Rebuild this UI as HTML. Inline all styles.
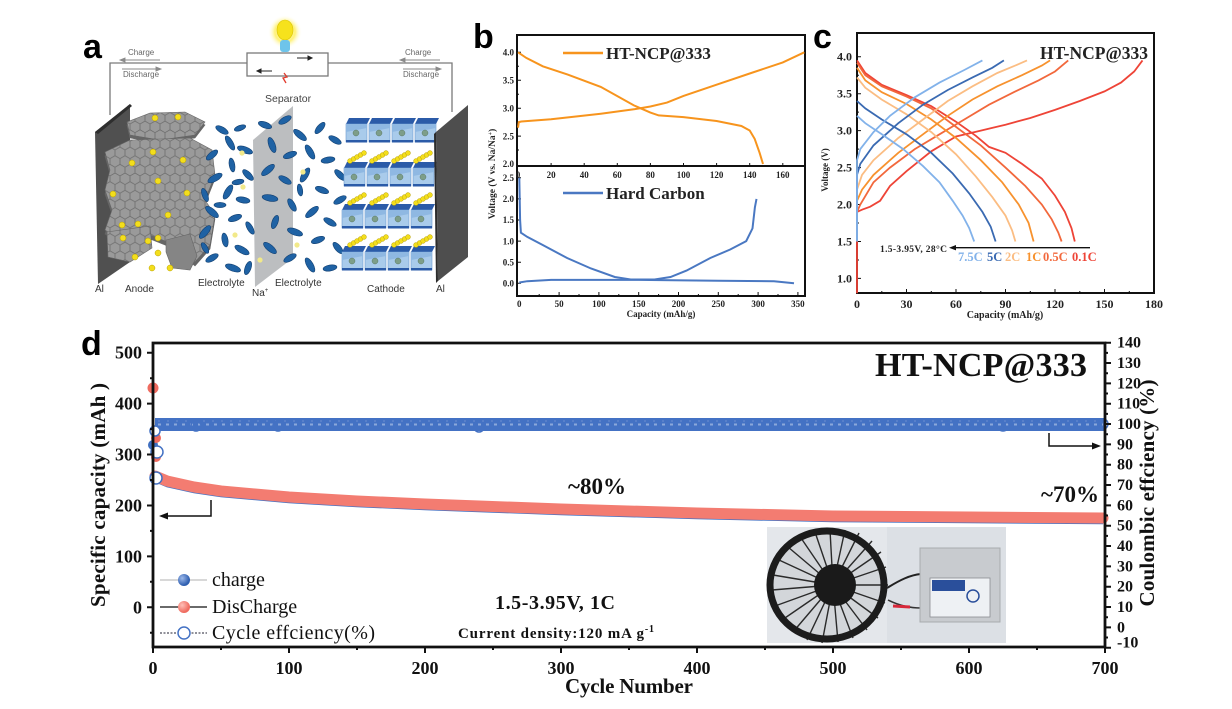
<!DOCTYPE html>
<html><head><meta charset="utf-8"><style>
html,body{margin:0;padding:0;background:#fff;}
svg{display:block;}
.s{font-family:"Liberation Serif",serif;font-weight:bold;}
.r{font-family:"Liberation Serif",serif;}
.a{font-family:"Liberation Sans",sans-serif;}
</style></head><body>
<svg width="1232" height="709" viewBox="0 0 1232 709" xmlns="http://www.w3.org/2000/svg">
<defs>
<pattern id="hex" width="10" height="17.3" patternUnits="userSpaceOnUse">
<rect width="10" height="17.3" fill="#9a9a9a"/>
<path d="M5 0 L10 2.9 L10 8.65 L5 11.55 L0 8.65 L0 2.9 Z M5 11.55 L5 17.3" fill="none" stroke="#6e6e6e" stroke-width="0.8"/>
</pattern>
<radialGradient id="glow" cx="0.5" cy="0.5" r="0.5"><stop offset="0" stop-color="#fffbd0"/><stop offset="0.6" stop-color="#fff27a"/><stop offset="1" stop-color="#fff" stop-opacity="0"/></radialGradient>
<radialGradient id="bball" cx="0.35" cy="0.35" r="0.6"><stop offset="0" stop-color="#9db9ea"/><stop offset="1" stop-color="#2f5fb0"/></radialGradient>
<radialGradient id="rball" cx="0.35" cy="0.35" r="0.6"><stop offset="0" stop-color="#ffc0b8"/><stop offset="1" stop-color="#ef6b5f"/></radialGradient>
<g id="cube">
<polygon points="3,0 24,0 21,6 0,6" fill="#2b5ba8"/>
<rect x="0" y="6" width="21" height="18" fill="#a9cbeb" stroke="#6d9bd0" stroke-width="0.6"/>
<polygon points="0,6 21,6 21,10 0,14" fill="#8fb8e2"/>
<rect x="0" y="22" width="21" height="2.5" fill="#2b5ba8"/>
<circle cx="10" cy="15" r="3" fill="#7d9e89" stroke="#5b7a66" stroke-width="0.5"/>
</g>
<g id="chain" fill="#f3de1c" stroke="#b9a000" stroke-width="0.5">
<circle cx="0" cy="8" r="2.4"/><circle cx="3.5" cy="6" r="2.4"/><circle cx="7" cy="4" r="2.4"/><circle cx="10.5" cy="2" r="2.4"/><circle cx="14" cy="0" r="2.4"/>
</g>
</defs>

<!-- ================= PANEL A ================= -->
<text x="83" y="58" class="a" font-size="34" font-weight="bold">a</text>
<g fill="none" stroke="#7a7a7a" stroke-width="1.3">
<path d="M110 115 V63 H247 M328 63 H452 V112"/>
<rect x="247" y="53" width="81" height="23" fill="#fff"/>
</g>
<circle cx="285" cy="32" r="17" fill="url(#glow)"/>
<ellipse cx="285" cy="30" rx="8" ry="10" fill="#f6e21c" stroke="#d8c200" stroke-width="0.6"/>
<rect x="280" y="40" width="10" height="12" rx="3" fill="#6ec4ea"/>
<path d="M284 73 L287 77 L283 78 L286 83" fill="none" stroke="#e23b2d" stroke-width="1.3"/>
<g stroke="#222" stroke-width="1" fill="#222">
<path d="M297 58 H309"/><path d="M312 58 L308 56 L308 60 Z"/>
<path d="M272 71 H260"/><path d="M257 71 L261 69 L261 73 Z"/>
</g>
<g class="a" font-size="8" fill="#666">
<text x="128" y="55">Charge</text><text x="123" y="77">Discharge</text>
<text x="405" y="55">Charge</text><text x="403" y="77">Discharge</text>
</g>
<g stroke="#8a8a8a" stroke-width="0.9" fill="#8a8a8a">
<path d="M123 60 H160"/><path d="M120 60 L125 58 L125 62 Z"/>
<path d="M122 69 H158"/><path d="M161 69 L156 67 L156 71 Z"/>
<path d="M403 60 H440"/><path d="M400 60 L405 58 L405 62 Z"/>
<path d="M403 69 H438"/><path d="M441 69 L436 67 L436 71 Z"/>
</g>
<text x="265" y="102" class="a" font-size="10.5" fill="#444">Separator</text>
<polygon points="95,132 130,104 130,262 98,284" fill="#505050"/>
<polygon points="95,132 130,104 132,106 98,134" fill="#2e2e2e"/>
<g stroke="#666" stroke-width="0.6">
<polygon points="127,125 150,116 185,115 205,125 195,138 160,143 130,138" fill="#666"/>
<polygon points="127,122 150,113 185,112 205,122 195,135 160,140 130,135" fill="url(#hex)"/>
<polygon points="105,156 130,144 190,142 212,154 215,179 205,204 215,219 210,249 195,266 175,249 150,239 120,244 105,234 112,214 105,194 110,174" fill="#666"/>
<polygon points="105,152 130,140 190,138 212,150 215,175 205,200 215,215 210,245 195,262 175,245 150,235 120,240 105,230 112,210 105,190 110,170" fill="url(#hex)"/>
<polygon points="107,232 150,226 152,248 130,262 108,257" fill="url(#hex)"/>
<polygon points="166,240 190,234 197,256 190,270 172,268 166,252" fill="#858585"/>
</g>
<g fill="#f3de1c" stroke="#b9a000" stroke-width="0.5">
<circle cx="155" cy="118" r="3"/><circle cx="178" cy="117" r="3"/><circle cx="153" cy="152" r="3"/><circle cx="183" cy="160" r="3"/>
<circle cx="132" cy="163" r="3"/><circle cx="158" cy="181" r="3"/><circle cx="113" cy="194" r="3"/><circle cx="187" cy="193" r="3"/>
<circle cx="168" cy="215" r="3"/><circle cx="122" cy="225" r="3"/><circle cx="138" cy="224" r="3"/><circle cx="123" cy="238" r="3"/>
<circle cx="135" cy="257" r="3"/><circle cx="148" cy="241" r="3"/><circle cx="158" cy="253" r="3"/><circle cx="152" cy="268" r="3"/>
<circle cx="170" cy="268" r="3"/><circle cx="158" cy="238" r="3"/>
</g>
<polygon points="253,140 293,106 293,258 255,287" fill="#a6a8ab" opacity="0.75"/>
<g fill="#1f62a4" stroke="#123f70" stroke-width="0.6">
<ellipse cx="222" cy="130" rx="7" ry="3" transform="rotate(30 222 130)"/>
<ellipse cx="240" cy="128" rx="6" ry="2.6" transform="rotate(-20 240 128)"/>
<ellipse cx="230" cy="143" rx="8" ry="3" transform="rotate(60 230 143)"/>
<ellipse cx="212" cy="155" rx="7" ry="3" transform="rotate(-40 212 155)"/>
<ellipse cx="245" cy="150" rx="8" ry="3.2" transform="rotate(20 245 150)"/>
<ellipse cx="232" cy="165" rx="7" ry="2.8" transform="rotate(80 232 165)"/>
<ellipse cx="215" cy="178" rx="8" ry="3.2" transform="rotate(-30 215 178)"/>
<ellipse cx="248" cy="175" rx="7" ry="3" transform="rotate(45 248 175)"/>
<ellipse cx="205" cy="195" rx="7" ry="2.8" transform="rotate(70 205 195)"/>
<ellipse cx="228" cy="192" rx="8" ry="3.2" transform="rotate(-60 228 192)"/>
<ellipse cx="243" cy="200" rx="7" ry="3" transform="rotate(10 243 200)"/>
<ellipse cx="212" cy="212" rx="8" ry="3.2" transform="rotate(40 212 212)"/>
<ellipse cx="235" cy="218" rx="7" ry="3" transform="rotate(-20 235 218)"/>
<ellipse cx="250" cy="228" rx="7" ry="2.8" transform="rotate(60 250 228)"/>
<ellipse cx="205" cy="232" rx="8" ry="3.2" transform="rotate(-50 205 232)"/>
<ellipse cx="225" cy="240" rx="7" ry="3" transform="rotate(80 225 240)"/>
<ellipse cx="242" cy="250" rx="8" ry="3.2" transform="rotate(30 242 250)"/>
<ellipse cx="212" cy="258" rx="7" ry="3" transform="rotate(-30 212 258)"/>
<ellipse cx="233" cy="268" rx="8" ry="3.2" transform="rotate(20 233 268)"/>
<ellipse cx="248" cy="268" rx="7" ry="3" transform="rotate(-70 248 268)"/>
<ellipse cx="205" cy="248" rx="6" ry="2.6" transform="rotate(60 205 248)"/>
<ellipse cx="220" cy="205" rx="6" ry="2.6"/>
<ellipse cx="238" cy="182" rx="6" ry="2.6" transform="rotate(-10 238 182)"/>
<ellipse cx="265" cy="125" rx="7" ry="3" transform="rotate(20 265 125)"/>
<ellipse cx="285" cy="120" rx="7" ry="3" transform="rotate(-30 285 120)"/>
<ellipse cx="300" cy="135" rx="8" ry="3.2" transform="rotate(40 300 135)"/>
<ellipse cx="320" cy="128" rx="7" ry="3" transform="rotate(-50 320 128)"/>
<ellipse cx="335" cy="140" rx="7" ry="3" transform="rotate(30 335 140)"/>
<ellipse cx="272" cy="145" rx="8" ry="3.2" transform="rotate(70 272 145)"/>
<ellipse cx="290" cy="155" rx="7" ry="3" transform="rotate(-20 290 155)"/>
<ellipse cx="310" cy="152" rx="8" ry="3.2" transform="rotate(60 310 152)"/>
<ellipse cx="328" cy="160" rx="7" ry="3" transform="rotate(-10 328 160)"/>
<ellipse cx="340" cy="175" rx="7" ry="3" transform="rotate(45 340 175)"/>
<ellipse cx="268" cy="170" rx="8" ry="3.2" transform="rotate(-40 268 170)"/>
<ellipse cx="285" cy="180" rx="7" ry="3" transform="rotate(30 285 180)"/>
<ellipse cx="305" cy="175" rx="8" ry="3.2" transform="rotate(-60 305 175)"/>
<ellipse cx="322" cy="190" rx="7" ry="3" transform="rotate(20 322 190)"/>
<ellipse cx="340" cy="200" rx="7" ry="3" transform="rotate(-30 340 200)"/>
<ellipse cx="270" cy="198" rx="8" ry="3.2" transform="rotate(10 270 198)"/>
<ellipse cx="292" cy="205" rx="7" ry="3" transform="rotate(60 292 205)"/>
<ellipse cx="312" cy="212" rx="8" ry="3.2" transform="rotate(-40 312 212)"/>
<ellipse cx="330" cy="222" rx="7" ry="3" transform="rotate(30 330 222)"/>
<ellipse cx="275" cy="222" rx="7" ry="3" transform="rotate(-70 275 222)"/>
<ellipse cx="295" cy="232" rx="8" ry="3.2" transform="rotate(20 295 232)"/>
<ellipse cx="318" cy="240" rx="7" ry="3" transform="rotate(-20 318 240)"/>
<ellipse cx="338" cy="248" rx="7" ry="3" transform="rotate(50 338 248)"/>
<ellipse cx="270" cy="248" rx="8" ry="3.2" transform="rotate(40 270 248)"/>
<ellipse cx="290" cy="258" rx="7" ry="3" transform="rotate(-30 290 258)"/>
<ellipse cx="310" cy="265" rx="8" ry="3.2" transform="rotate(60 310 265)"/>
<ellipse cx="330" cy="268" rx="7" ry="3" transform="rotate(-10 330 268)"/>
<ellipse cx="300" cy="190" rx="6" ry="2.6" transform="rotate(80 300 190)"/>
</g>
<g fill="#f2e98a">
<circle cx="242" cy="153" r="2.6"/><circle cx="243" cy="187" r="2.6"/><circle cx="235" cy="235" r="2.6"/>
<circle cx="260" cy="260" r="2.6"/><circle cx="297" cy="245" r="2.6"/><circle cx="303" cy="172" r="2.6"/>
</g>
<use href="#cube" x="346" y="118"/><use href="#cube" x="369" y="118"/><use href="#cube" x="392" y="118"/><use href="#cube" x="415" y="118"/>
<use href="#cube" x="344" y="162"/><use href="#cube" x="367" y="162"/><use href="#cube" x="390" y="162"/><use href="#cube" x="413" y="162"/>
<use href="#cube" x="342" y="204"/><use href="#cube" x="365" y="204"/><use href="#cube" x="388" y="204"/><use href="#cube" x="411" y="204"/>
<use href="#cube" x="342" y="246"/><use href="#cube" x="365" y="246"/><use href="#cube" x="388" y="246"/><use href="#cube" x="411" y="246"/>
<use href="#chain" x="350" y="153"/><use href="#chain" x="372" y="153"/><use href="#chain" x="394" y="153"/><use href="#chain" x="416" y="153"/>
<use href="#chain" x="350" y="195"/><use href="#chain" x="372" y="195"/><use href="#chain" x="394" y="195"/><use href="#chain" x="416" y="195"/>
<use href="#chain" x="350" y="237"/><use href="#chain" x="372" y="237"/><use href="#chain" x="394" y="237"/><use href="#chain" x="416" y="237"/>
<polygon points="436,132 468,105 468,257 438,281" fill="#4e4e4e"/>
<polygon points="434,134 436,132 438,281 436,283" fill="#2c2c2c"/>
<g class="a" font-size="10" fill="#333">
<text x="95" y="292">Al</text><text x="125" y="292">Anode</text>
<text x="198" y="286">Electrolyte</text><text x="252" y="296">Na<tspan font-size="6" dy="-4">+</tspan></text>
<text x="275" y="286">Electrolyte</text><text x="367" y="292">Cathode</text><text x="436" y="292">Al</text>
</g>

<!-- ================= PANEL B ================= -->
<text x="473" y="48" class="a" font-size="34" font-weight="bold">b</text>
<g fill="none" stroke="#111" stroke-width="2">
<rect x="517" y="35" width="288" height="261"/>
<path d="M517 166 H805"/>
</g>
<g stroke="#111" stroke-width="1">
<path d="M517 52.3h4M517 80.2h4M517 108.2h4M517 136.1h4M517 66.3h2M517 94.2h2M517 122.2h2M517 150h2"/>
<path d="M551.1 166v-3M584.2 166v-3M617.3 166v-3M650.4 166v-3M683.5 166v-3M716.6 166v-3M749.7 166v-3M782.8 166v-3"/>
<path d="M517 177.8h4M517 198.9h4M517 220h4M517 241.1h4M517 262.2h4M517 283.3h4"/>
<path d="M559.1 296v-4M598.9 296v-4M638.7 296v-4M678.5 296v-4M718.3 296v-4M758.1 296v-4M797.9 296v-4M539.2 296v-2M579 296v-2M618.8 296v-2M658.6 296v-2M698.4 296v-2M738.2 296v-2M778 296v-2"/>
</g>
<g class="s" font-size="9" fill="#222" text-anchor="end">
<text x="514" y="55.5">4.0</text><text x="514" y="83.4">3.5</text><text x="514" y="111.4">3.0</text><text x="514" y="139.3">2.5</text><text x="514" y="167">2.0</text>
<text x="514" y="181">2.5</text><text x="514" y="202.1">2.0</text><text x="514" y="223.2">1.5</text><text x="514" y="244.3">1.0</text><text x="514" y="265.4">0.5</text><text x="514" y="286.5">0.0</text>
</g>
<g class="s" font-size="9" fill="#222" text-anchor="middle">
<text x="518" y="178">0</text><text x="551.1" y="178">20</text><text x="584.2" y="178">40</text><text x="617.3" y="178">60</text><text x="650.4" y="178">80</text><text x="683.5" y="178">100</text><text x="716.6" y="178">120</text><text x="749.7" y="178">140</text><text x="782.8" y="178">160</text>
<text x="519.3" y="307">0</text><text x="559.1" y="307">50</text><text x="598.9" y="307">100</text><text x="638.7" y="307">150</text><text x="678.5" y="307">200</text><text x="718.3" y="307">250</text><text x="758.1" y="307">300</text><text x="797.9" y="307">350</text>
<text x="661" y="317">Capacity (mAh/g)</text>
</g>
<text class="s" font-size="9.5" fill="#222" text-anchor="middle" transform="translate(495 174) rotate(-90)">Voltage (V vs. Na/Na<tspan font-size="6" dy="-3">+</tspan><tspan dy="3">)</tspan></text>
<g fill="none" stroke="#f7941d" stroke-width="2">
<polyline points="518,127.7 518.8,122.1 521.3,121.5 551.1,119.3 600.8,113.7 633.9,109.3 650.4,106.5 667,102.6 683.5,95.9 716.6,84.7 749.7,73.5 782.8,62.4 804.3,52.3"/>
<polyline points="518,52.3 526.3,57.9 542.8,66.3 567.7,74.6 600.8,86.9 633.9,105.4 650.4,112.6 658.7,115.4 683.5,117.1 716.6,121 741.4,126 749.7,130.5 754.7,138.9 759.6,152.8 763,164"/>
<path d="M563 53 H603" stroke-width="2.5"/>
</g>
<g fill="none" stroke="#4a78c2" stroke-width="2">
<polyline points="519.3,177.8 520.1,220 520.9,232.7 527.3,236.9 543.2,245.3 567.1,258 591,268.5 614.8,277 630.7,279.5 654.6,279.5 670.5,277 686.5,270.6 710.3,258 730.2,249.5 746.2,241.1 752.5,228.4 754.9,207.3 756.5,198.9"/>
<polyline points="519.3,282.5 527.3,281.2 551.1,279.9 638.7,279.9 718.3,280.8 774,281.2 794,283.3"/>
<path d="M563 193 H603" stroke-width="2.5"/>
</g>
<text x="606" y="59" class="s" font-size="17" fill="#222">HT-NCP@333</text>
<text x="606" y="199" class="s" font-size="17" fill="#222">Hard Carbon</text>

<!-- ================= PANEL C ================= -->
<text x="813" y="48" class="a" font-size="34" font-weight="bold">c</text>
<rect x="857" y="33" width="297" height="260" fill="none" stroke="#111" stroke-width="2"/>
<g stroke="#111" stroke-width="1">
<path d="M857 56.7h4M857 93.7h4M857 130.6h4M857 167.6h4M857 204.5h4M857 241.5h4M857 278.4h4M857 75.2h2M857 112.1h2M857 149.1h2M857 186h2M857 223h2M857 260h2"/>
<path d="M906.5 293v-4M956 293v-4M1005.5 293v-4M1055 293v-4M1104.5 293v-4M881.8 293v-2M931.3 293v-2M980.8 293v-2M1030.3 293v-2M1079.8 293v-2M1129.3 293v-2"/>
</g>
<g class="s" font-size="12" fill="#222" text-anchor="end">
<text x="852" y="60.7">4.0</text><text x="852" y="97.7">3.5</text><text x="852" y="134.6">3.0</text><text x="852" y="171.6">2.5</text><text x="852" y="208.5">2.0</text><text x="852" y="245.5">1.5</text><text x="852" y="282.4">1.0</text>
</g>
<g class="s" font-size="12" fill="#222" text-anchor="middle">
<text x="857" y="308">0</text><text x="906.5" y="308">30</text><text x="956" y="308">60</text><text x="1005.5" y="308">90</text><text x="1055" y="308">120</text><text x="1104.5" y="308">150</text><text x="1154" y="308">180</text>
<text x="1005" y="318" font-size="10">Capacity (mAh/g)</text>
</g>
<text class="s" font-size="9" fill="#222" text-anchor="middle" transform="translate(828 170) rotate(-90)">Voltage (V)</text>
<text x="1040" y="59" class="s" font-size="17.5" fill="#222">HT-NCP@333</text>
<g fill="none" stroke-width="1.8">
<polyline stroke="#ee4437" points="857,293.2 857,211.9 862,209.7 870.2,206.7 880.1,200.8 890,186 906.5,171.2 931.3,151.3 956,136.5 980.8,130.6 1005.5,124.7 1030.3,118 1055,109.9 1079.8,101 1104.5,91.4 1121,82.6 1134.2,71.5 1142.5,60.4"/>
<polyline stroke="#ee4437" points="857,60.4 865.3,73 881.8,84.8 906.5,95.1 931.3,106.2 956,121.7 975.8,135.8 989,146.9 1005.5,152.8 1022,163.9 1041.8,178.6 1055,195.6 1064.9,211.9 1071.5,228.1 1074.8,241.5"/>
<polyline stroke="#f2683c" points="857,241.5 857,211.9 860.3,204.5 873.5,182.3 890,167.6 914.8,149.1 939.5,134.3 964.3,119.5 989,104.7 1013.8,92.2 1038.5,80.4 1055,71.5 1068.2,60.4"/>
<polyline stroke="#f2683c" points="857,62.6 865.3,75.2 881.8,86.3 906.5,96.6 931.3,108.4 956,126.9 980.8,145.4 1005.5,167.6 1025.3,186 1041.8,204.5 1051.7,219.3 1058.3,232.6 1061.6,241.5"/>
<polyline stroke="#f7922e" points="857,241.5 857,200.8 862,189.7 873.5,174.9 898.3,152.8 923,134.3 947.8,115.8 972.5,99.5 997.3,86.3 1022,75.2 1041.8,65.6 1050.1,60.4"/>
<polyline stroke="#f7922e" points="857,67.8 865.3,80.4 881.8,92.2 906.5,104 931.3,119.5 956,138 980.8,160.2 1002.2,182.3 1018.7,204.5 1028.6,223 1033.6,241.5"/>
<polyline stroke="#fbbd83" points="857,241.5 857,189.7 862,174.9 873.5,160.2 898.3,138 923,119.5 947.8,101 972.5,86.3 997.3,73 1018.7,64.1 1027,60.4"/>
<polyline stroke="#fbbd83" points="857,77.4 865.3,87.7 881.8,99.6 906.5,114.3 931.3,132.1 956,154.3 975.8,176.4 992.3,197.1 1005.5,215.6 1012.1,230.4 1015.4,241.5"/>
<polyline stroke="#3a6ab2" points="857,241.5 857,174.9 860.3,163.9 873.5,145.4 898.3,123.2 923,104.7 947.8,90 972.5,77.4 992.3,67.8 1003.9,60.4"/>
<polyline stroke="#3a6ab2" points="857,101 865.3,108.4 881.8,119.5 906.5,134.3 931.3,152.8 952.7,173.5 969.2,193.4 982.4,211.9 990.7,226.7 995.6,241.5"/>
<polyline stroke="#82b2ea" points="857,241.5 857,160.2 860.3,149.1 873.5,132.1 890,115.8 914.8,97.3 939.5,82.6 964.3,70 982.4,60.4"/>
<polyline stroke="#82b2ea" points="857,115.8 865.3,123.2 881.8,134.3 903.2,149.1 923,166.1 939.5,182.3 952.7,200.8 962.6,215.6 969.2,228.1 974.2,241.5"/>
</g>
<path d="M1090 247.7 H954" stroke="#111" stroke-width="1.3"/>
<path d="M949 247.7 L956 245 L956 250.4 Z" fill="#111"/>
<text x="880" y="252" class="s" font-size="9.5" fill="#222" textLength="67">1.5-3.95V, 28°C</text>
<g class="s" font-size="12.5">
<text x="958" y="261" fill="#82b2ea">7.5C</text>
<text x="987" y="261" fill="#3a6ab2">5C</text>
<text x="1005" y="261" fill="#fbbd83">2C</text>
<text x="1026" y="261" fill="#f7922e">1C</text>
<text x="1043" y="261" fill="#f2683c">0.5C</text>
<text x="1072" y="261" fill="#ee4437">0.1C</text>
</g>

<!-- ================= PANEL D ================= -->
<text x="81" y="355" class="a" font-size="34" font-weight="bold">d</text>
<rect x="767" y="527" width="239" height="116" fill="#dce0e5"/>
<rect x="767" y="527" width="120" height="116" fill="#e4e7eb"/>
<ellipse cx="827" cy="585" rx="57" ry="53" fill="#d3d6da"/>
<g stroke="#2a2a2a" stroke-width="1.4">
<path d="M833 585 L888 585 M833 585 L886 567 M833 585 L881 552 M833 585 L872 541 M833 585 L859 533 M833 585 L845 530 M833 585 L830 530 M833 585 L815 532 M833 585 L801 538 M833 585 L788 547 M833 585 L779 560 M833 585 L773 575 M833 585 L772 590 M833 585 L775 606 M833 585 L782 620 M833 585 L793 632 M833 585 L807 640 M833 585 L822 643 M833 585 L838 642 M833 585 L853 638 M833 585 L867 630 M833 585 L878 618 M833 585 L885 603"/>
</g>
<ellipse cx="827" cy="585" rx="57" ry="54" fill="none" stroke="#1c1c1c" stroke-width="7"/>
<circle cx="835" cy="585" r="21" fill="#1a1a1a"/>
<path d="M887 588 C900 580 910 575 921 574" fill="none" stroke="#222" stroke-width="2"/>
<path d="M888 600 C900 606 910 608 921 608" fill="none" stroke="#333" stroke-width="1.5"/>
<path d="M893 606 L910 607" stroke="#d8283a" stroke-width="3"/>
<rect x="920" y="548" width="80" height="74" fill="#c8cbcf" stroke="#a8abae" stroke-width="1"/>
<rect x="930" y="578" width="60" height="39" fill="#eef1f4" stroke="#8a8d92" stroke-width="0.8"/>
<rect x="932" y="580" width="33" height="11" fill="#2a4f9b"/>
<circle cx="973" cy="596" r="6" fill="none" stroke="#2a4f9b" stroke-width="1.5"/>

<rect x="155" y="418" width="950" height="13" fill="#4472c4"/>
<path d="M158 424.5 H1103" stroke="#a9bfe4" stroke-width="2" stroke-dasharray="3 5" opacity="0.7"/>
<path d="M158 421 H1103" stroke="#7d9bd6" stroke-width="1" stroke-dasharray="2 7" opacity="0.7"/>
<g fill="none" stroke="#4472c4" stroke-width="1.5">
<circle cx="196" cy="426" r="5"/><circle cx="278" cy="426" r="5"/><circle cx="479" cy="427" r="5"/><circle cx="1003" cy="425" r="6"/><circle cx="1103" cy="424" r="5"/>
</g>
<polyline points="155,481 167,486 194,492 221,496 289,502 357,506 425,509 479,511 561,514 697,518 833,521 969,522 1103,523" fill="none" stroke="#4472c4" stroke-width="2.5"/>
<polyline points="155,476 167,481 194,487 221,491 289,497 357,501 425,504 479,506 561,509 697,513 833,516 969,517 1103,518" fill="none" stroke="#f37c71" stroke-width="11" stroke-linecap="round"/>
<circle cx="153" cy="388" r="5.5" fill="#ef6b5f"/>
<circle cx="153" cy="445" r="5" fill="#3f6fc0"/>
<circle cx="156" cy="438" r="5" fill="#ef6b5f"/>
<circle cx="156" cy="457" r="5" fill="#ef6b5f"/>
<g fill="#fff" stroke="#4472c4" stroke-width="1.5">
<circle cx="157" cy="452" r="6"/><circle cx="156" cy="478" r="6"/><circle cx="155" cy="431" r="5"/>
</g>
<g fill="none" stroke="#111" stroke-width="2.8">
<path d="M153 343 H1105 V647 H153 Z"/>
</g>
<g stroke="#111" stroke-width="2">
<path d="M147 352.7H153M147 403.6H153M147 454.5H153M147 505.5H153M147 556.4H153M147 607.3H153"/>
<path d="M150 378.2H153M150 429.1H153M150 480H153M150 530.9H153M150 581.8H153M150 632.8H153"/>
<path d="M1105 647.7h6M1105 627.4h6M1105 607h6M1105 586.7h6M1105 566.4h6M1105 546h6M1105 525.7h6M1105 505.4h6M1105 485h6M1105 464.7h6M1105 444.4h6M1105 424h6M1105 403.7h6M1105 383.4h6M1105 363h6M1105 342.7h6"/>
<path d="M1105 637.5h3M1105 617.2h3M1105 596.9h3M1105 576.5h3M1105 556.2h3M1105 535.9h3M1105 515.5h3M1105 495.2h3M1105 474.9h3M1105 454.5h3M1105 434.2h3M1105 413.9h3M1105 393.5h3M1105 373.2h3M1105 352.9h3"/>
<path d="M153 647v6M289 647v6M425 647v6M561 647v6M697 647v6M833 647v6M969 647v6M1105 647v6"/>
<path d="M221 647v3M357 647v3M493 647v3M629 647v3M765 647v3M901 647v3M1037 647v3"/>
</g>
<g class="s" font-size="18" fill="#111" text-anchor="end">
<text x="142" y="358.7">500</text><text x="142" y="409.6">400</text><text x="142" y="460.5">300</text><text x="142" y="511.5">200</text><text x="142" y="562.4">100</text><text x="142" y="613.3">0</text>
</g>
<g class="s" font-size="16" fill="#111">
<text x="1117" y="647.7">-10</text><text x="1117" y="632.4">0</text><text x="1117" y="612">10</text><text x="1117" y="591.7">20</text><text x="1117" y="571.4">30</text><text x="1117" y="551">40</text><text x="1117" y="530.7">50</text><text x="1117" y="510.4">60</text><text x="1117" y="490">70</text><text x="1117" y="469.7">80</text><text x="1117" y="449.4">90</text><text x="1117" y="429">100</text><text x="1117" y="408.7">110</text><text x="1117" y="388.4">120</text><text x="1117" y="368">130</text><text x="1117" y="347.7">140</text>
</g>
<g class="s" font-size="18" fill="#111" text-anchor="middle">
<text x="153" y="674">0</text><text x="289" y="674">100</text><text x="425" y="674">200</text><text x="561" y="674">300</text><text x="697" y="674">400</text><text x="833" y="674">500</text><text x="969" y="674">600</text><text x="1105" y="674">700</text>
</g>
<text x="629" y="693" class="s" font-size="21" fill="#111" text-anchor="middle" textLength="128">Cycle Number</text>
<text class="s" font-size="21" fill="#111" text-anchor="middle" textLength="224" transform="translate(105 495) rotate(-90)">Specific capacity (mAh )</text>
<text class="s" font-size="21" fill="#111" text-anchor="middle" textLength="227" transform="translate(1154 493) rotate(-90)">Coulombic effciency (%)</text>
<text x="875" y="376" class="s" font-size="34" fill="#111" textLength="212">HT-NCP@333</text>
<text x="568" y="494" class="s" font-size="23" fill="#111">~80%</text>
<text x="1041" y="502" class="s" font-size="23" fill="#111">~70%</text>
<text x="495" y="609" class="s" font-size="20" fill="#111" textLength="120">1.5-3.95V, 1C</text>
<text x="458" y="638" class="s" font-size="15" fill="#111" textLength="196">Current density:120 mA g<tspan font-size="10" dy="-6">-1</tspan></text>
<g fill="none" stroke="#111" stroke-width="1.5">
<path d="M211 500 V516 H166"/>
<path d="M1049 433 V446 H1094"/>
</g>
<path d="M159 516 L168 512.5 L168 519.5 Z" fill="#111"/>
<path d="M1101 446 L1092 442.5 L1092 449.5 Z" fill="#111"/>
<path d="M160 580 H207" stroke="#c0c0c0" stroke-width="1.2"/>
<circle cx="184" cy="580" r="6" fill="url(#bball)"/>
<path d="M160 607 H207" stroke="#111" stroke-width="1.2"/>
<circle cx="184" cy="607" r="6" fill="url(#rball)"/>
<path d="M160 633 H207" stroke="#223" stroke-width="1" stroke-dasharray="2 1.5"/>
<circle cx="184" cy="633" r="6" fill="#fff" stroke="#4472c4" stroke-width="1.5"/>
<g class="r" font-size="20" fill="#111">
<text x="212" y="586">charge</text>
<text x="212" y="613">DisCharge</text>
<text x="212" y="639" textLength="163">Cycle effciency(%)</text>
</g>
</svg>
</body></html>
